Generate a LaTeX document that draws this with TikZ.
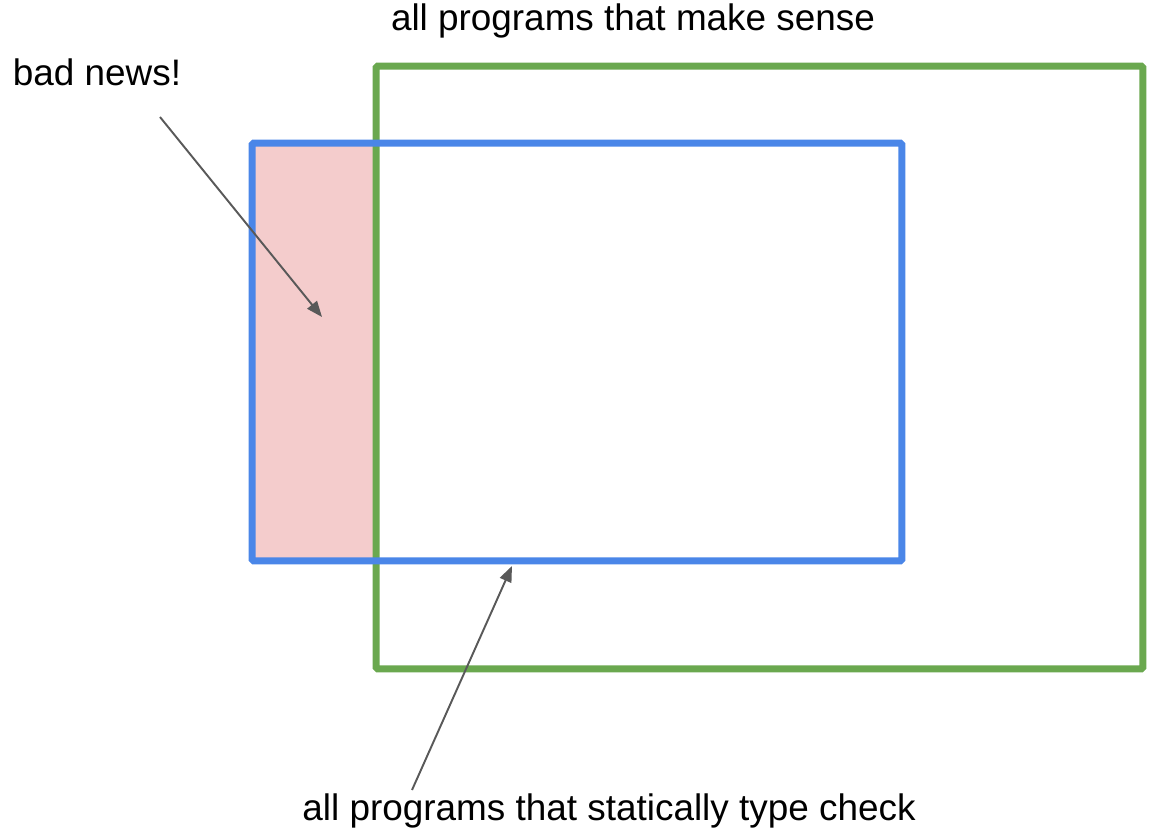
\documentclass[tikz,border=0pt]{standalone}
\usepackage{fontspec}
\setmainfont{Liberation Sans}
\usetikzlibrary{arrows.meta}
\definecolor{sensegreen}{HTML}{6AA84F}
\definecolor{typedblue}{HTML}{4A86E8}
\definecolor{badpink}{HTML}{F4CCCC}
\definecolor{pointergray}{HTML}{595959}

\begin{document}
\begin{tikzpicture}[x=0.02cm, y=-0.02cm]
	\tikzstyle{setbox}=[rectangle, draw, line width=4pt, rounded corners=1pt, inner sep=0pt]
	\tikzstyle{label}=[font=\fontsize{21}{25}\selectfont, text=black, anchor=base, inner sep=0pt]
	\tikzstyle{pointer}=[draw=pointergray, line width=1.1pt, -{Triangle[length=9pt, width=7pt]}]
	
	\useasboundingbox (0,0) rectangle (1150,831);
	
	% the part that type checks but makes no sense
	\fill[badpink] (252,143) rectangle (376,561);
	
	\node[setbox, sensegreen, minimum width=15.34cm, minimum height=12.06cm] at (759.5,367.5) (sense) {};
	\node[setbox, typedblue, minimum width=13cm, minimum height=8.36cm] at (577,352) (typed) {};
	
	\node[label] at (633,31) (sensetext) {all programs that make sense};
	\node[label] at (97,86) (badtext) {bad news!};
	\node[label] at (609,820) (typedtext) {all programs that statically type check};
	
	\coordinate (badfrom) at (160,117);
	\coordinate (badto) at (322,317);
	\coordinate (typedfrom) at (412,790);
	\coordinate (typedto) at (512,566);
	
	\draw[pointer] (badfrom) -- (badto);
	\draw[pointer] (typedfrom) -- (typedto);
	
\end{tikzpicture}
\end{document}
